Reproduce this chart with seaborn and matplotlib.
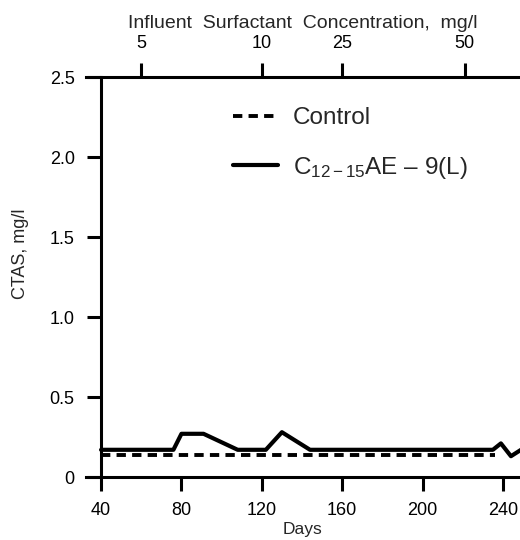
import matplotlib
matplotlib.use("Agg")
import matplotlib.pyplot as plt
import seaborn as sns
import pandas as pd

# Values
control_days = [40, 236]
control_ctas = [0.14, 0.14]

ae_days = [40, 76, 80, 91, 108, 122, 130, 144, 235, 239, 244, 249]
ae_ctas = [0.17, 0.17, 0.27, 0.27, 0.17, 0.17, 0.28, 0.17, 0.17, 0.21, 0.13, 0.17]

day_ticks = [40, 80, 120, 160, 200, 240]
ctas_ticks = [0, 0.5, 1.0, 1.5, 2.0, 2.5]
ctas_tick_labels = ["0", "0.5", "1.0", "1.5", "2.0", "2.5"]

conc_days = [60, 120, 160, 221]
conc_labels = ["5", "10", "25", "50"]

control = pd.DataFrame({"Days": control_days, "CTAS": control_ctas})
ae = pd.DataFrame({"Days": ae_days, "CTAS": ae_ctas})

sns.set_style("ticks", {"axes.edgecolor": "black",
                        "xtick.color": "black", "ytick.color": "black"})
plt.rcParams["font.family"] = ["Liberation Sans", "DejaVu Sans"]
plt.rcParams["mathtext.fontset"] = "custom"
plt.rcParams["mathtext.rm"] = "Liberation Sans"
plt.rcParams["mathtext.it"] = "Liberation Sans"

fig = plt.figure(figsize=(5.2, 5.4), dpi=100)
ax = fig.add_axes([86 / 520, 63 / 540, 434 / 520, 400 / 540])

sns.lineplot(data=control, x="Days", y="CTAS", ax=ax, color="black",
             linewidth=2.8, label="Control")
ax.lines[-1].set_dashes((2.4, 1.6))
sns.lineplot(data=ae, x="Days", y="CTAS", ax=ax, color="black",
             linewidth=3.0, label="C$_{12-15}$AE – 9(L)")

ax.set_xlim(32.5, 248.5)
ax.set_ylim(0, 2.5)

lw = 2.2
for side in ["top", "right"]:
    ax.spines[side].set_visible(False)
ax.spines["left"].set_position(("data", 40))
ax.spines["left"].set_linewidth(lw)
ax.spines["bottom"].set_linewidth(lw)

ax.set_xticks(day_ticks)
ax.set_yticks(ctas_ticks, labels=ctas_tick_labels)
ax.tick_params(axis="both", direction="out", length=10, width=lw,
               labelsize=13, colors="black")
ax.tick_params(axis="x", pad=8)
ax.tick_params(axis="y", pad=9)

ax.set_xlabel("Days", fontsize=12.5, labelpad=2.5)
ax.set_ylabel("CTAS, mg/l", fontsize=13)
ax.yaxis.set_label_coords(-0.132, 0.5575)

top = ax.secondary_xaxis("top")
top.set_xticks(conc_days, labels=conc_labels)
top.spines["top"].set_linewidth(lw)
top.tick_params(direction="out", length=10, width=lw, labelsize=13, pad=8,
                colors="black")
top.set_xlabel("Influent  Surfactant  Concentration,  mg/l", fontsize=14,
               labelpad=5)

ax.legend(loc="upper left", bbox_to_anchor=(0.339, 0.925), frameon=False,
          fontsize=17.5, handlelength=1.85, handletextpad=0.6, labelspacing=1.05,
          borderpad=0, borderaxespad=0)

fig.savefig("out.png", dpi=100)
